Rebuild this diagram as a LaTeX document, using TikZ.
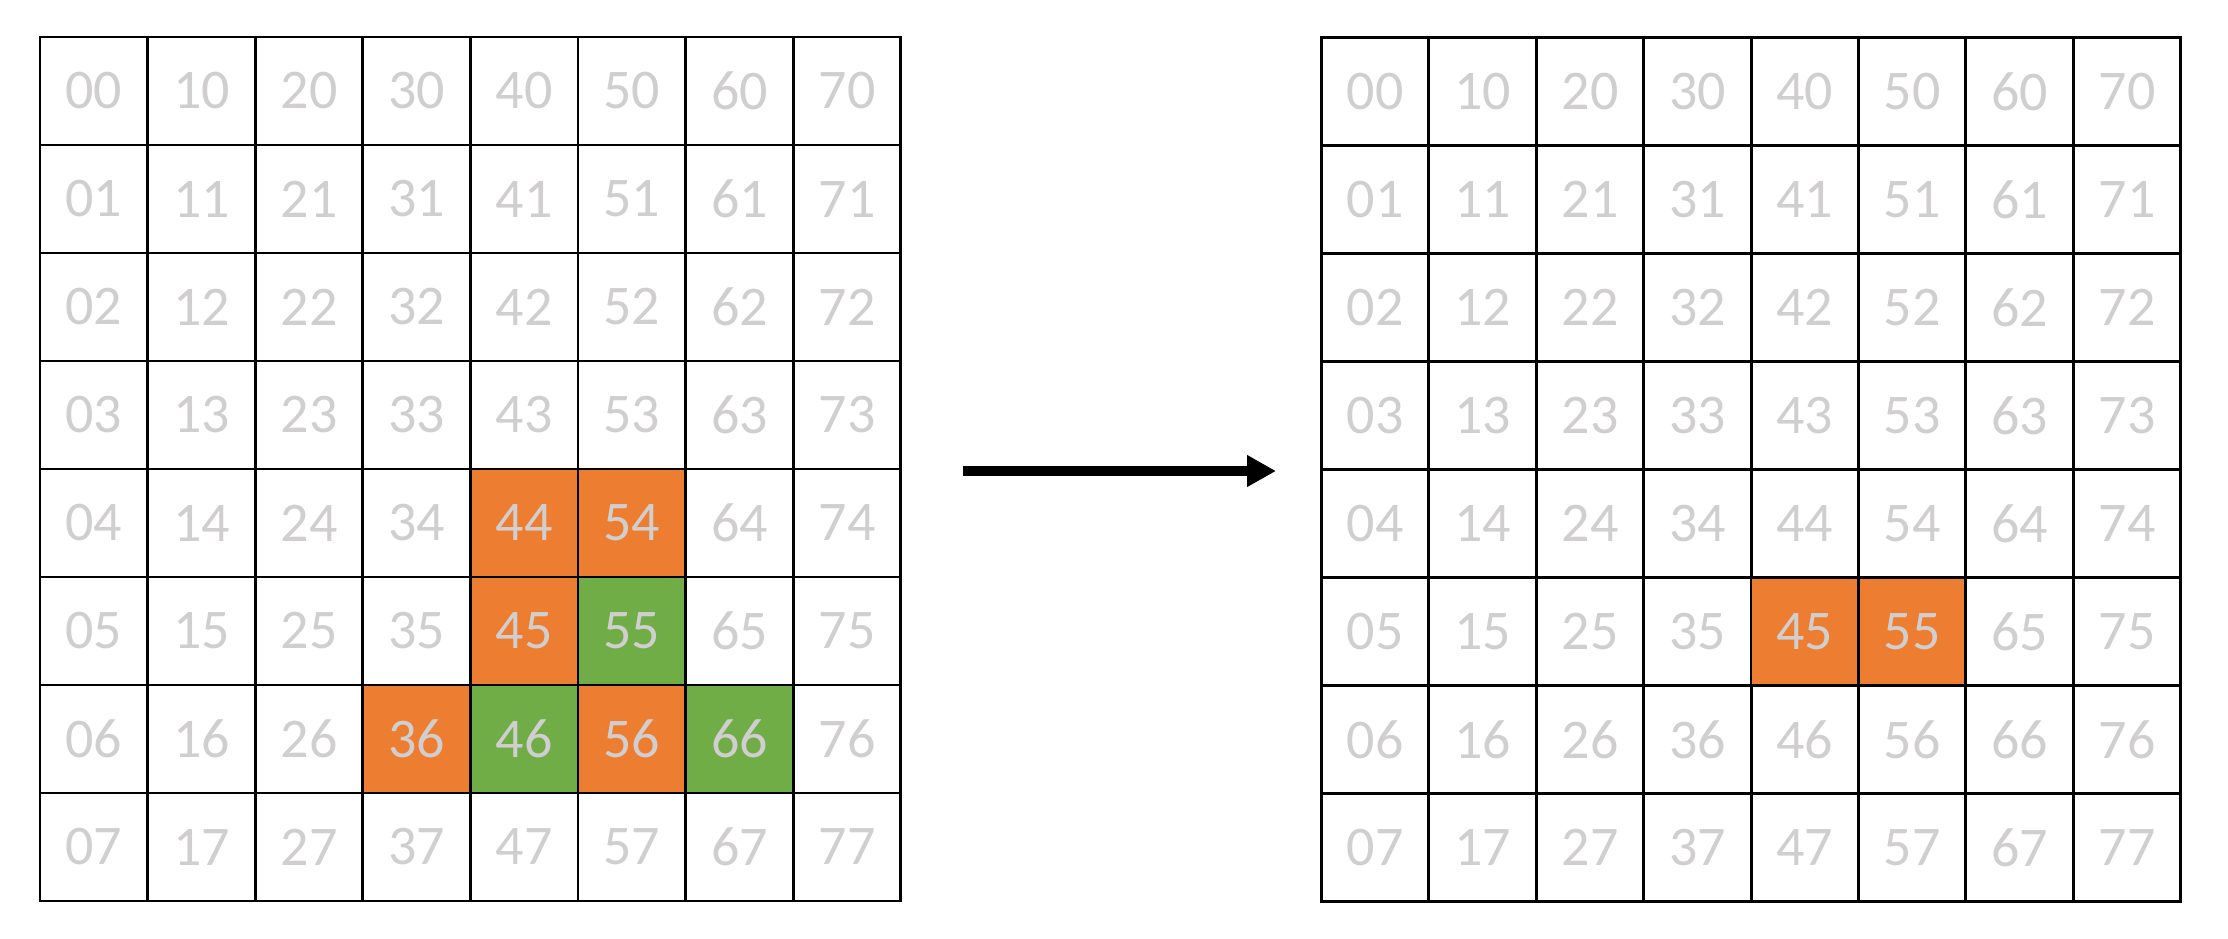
\documentclass[tikz,border=0pt]{standalone}
\usepackage{fontspec}
\setmainfont{Carlito}
\usetikzlibrary{arrows.meta}
\definecolor{orng}{HTML}{ED7D31}
\definecolor{grn}{HTML}{70AD47}
\definecolor{txtgray}{HTML}{D0CECE}
\tikzset{
  cell/.style={draw=black, line width=2.8pt, minimum width=107.5pt, minimum height=108pt,
    inner sep=0pt, text=txtgray, font=\fontsize{56}{62}\selectfont, anchor=center},
  L44/.style={fill=orng}, L54/.style={fill=orng}, L45/.style={fill=orng},
  L36/.style={fill=orng}, L56/.style={fill=orng},
  L55/.style={fill=grn}, L46/.style={fill=grn}, L66/.style={fill=grn},
  R45/.style={fill=orng}, R55/.style={fill=orng},
  bigarrow/.style={line width=10pt, -{Triangle[length=29pt,width=30pt]}}
}
\begin{document}
\begin{tikzpicture}[x=1pt,y=-1pt]
\useasboundingbox (0,0) rectangle (2228,938);
\foreach \i in {0,...,7}{
  \foreach \j in {0,...,7}{
    \node[cell, L\i\j/.try] (L-\i\j) at ({40+107.6*\i+53.8},{37+108*\j+54}) {\raisebox{-2pt}{\i\j}};
    \node[cell, R\i\j/.try] (R-\i\j) at ({1321.5+107.4*\i+53.7},{37.5+108*\j+54}) {\raisebox{-2pt}{\i\j}};
  }
}
\coordinate (a) at (963,471);
\coordinate (b) at (1276,471);
\draw[bigarrow] (a) -- (b);
\end{tikzpicture}
\end{document}
